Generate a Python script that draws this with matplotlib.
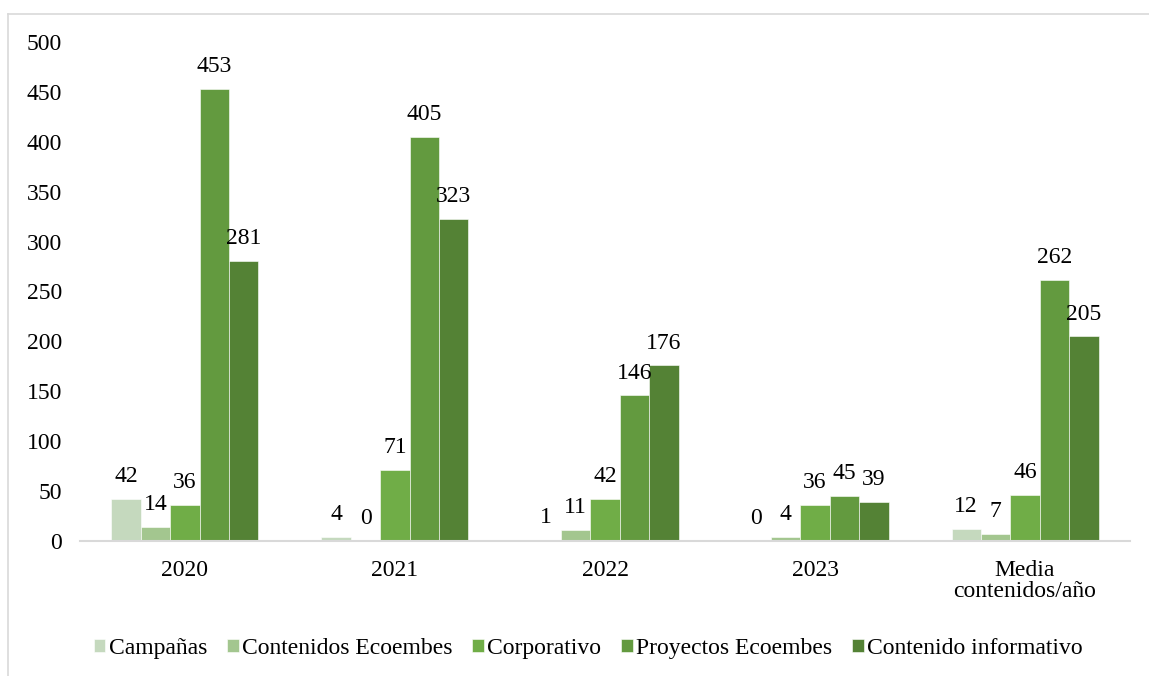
import matplotlib.pyplot as plt
from matplotlib.lines import Line2D
import numpy as np

plt.rcParams['font.family'] = ['Liberation Serif', 'DejaVu Serif']

categories = ['2020', '2021', '2022', '2023', 'Media\ncontenidos/año']
series_names = ['Campañas', 'Contenidos Ecoembes', 'Corporativo',
                'Proyectos Ecoembes', 'Contenido informativo']
campanas = [42, 4, 1, 0, 12]
contenidos = [14, 0, 11, 4, 7]
corporativo = [36, 71, 42, 36, 46]
proyectos = [453, 405, 146, 45, 262]
informativo = [281, 323, 176, 39, 205]
colors = ['#C5D9BE', '#A3C68F', '#70AD47', '#639A3F', '#548235']

series = [campanas, contenidos, corporativo, proyectos, informativo]

fig = plt.figure(figsize=(11.49, 6.76), dpi=100)
ax = fig.add_axes([0.0696, 0.1997, 0.9139, 0.7382])

x = np.arange(len(categories))
w = 0.14
fs = 17
for i, (vals, name, col) in enumerate(zip(series, series_names, colors)):
    pos = x + (i - 2) * w
    bars = ax.bar(pos, vals, w, color=col, label=name, edgecolor='white', linewidth=0.4)
    for p, v in zip(pos, vals):
        ax.annotate(str(v), (p, v), xytext=(0, 12), textcoords='offset points',
                    ha='center', va='baseline', fontsize=fs)

ax.set_xlim(-0.5, 4.5)
ax.set_ylim(0, 500)
ax.set_yticks(range(0, 501, 50))
ax.set_xticks(x)
ax.set_xticklabels(categories, fontsize=fs, linespacing=1.0)
ax.tick_params(axis='y', length=0, pad=13, labelsize=fs)
ax.tick_params(axis='x', length=0, pad=14)
for s in ['top', 'right', 'left']:
    ax.spines[s].set_visible(False)
ax.spines['bottom'].set_color('#D9D9D9')
ax.spines['bottom'].set_linewidth(1.5)

leg = ax.legend(loc='center', bbox_to_anchor=(0.512, 0.041), bbox_transform=fig.transFigure,
                ncol=5, frameon=False, fontsize=fs, handlelength=0.5, handleheight=0.45,
                handletextpad=0.13, columnspacing=0.85, borderpad=0)

# outer frame (left and top edges)
fig.add_artist(Line2D([8 / 1149, 8 / 1149], [0, 1 - 14 / 676], color='#D9D9D9',
                      linewidth=1.2, transform=fig.transFigure))
fig.add_artist(Line2D([8 / 1149, 1], [1 - 14 / 676, 1 - 14 / 676], color='#D9D9D9',
                      linewidth=1.2, transform=fig.transFigure))

fig.savefig('out.png', dpi=100)
